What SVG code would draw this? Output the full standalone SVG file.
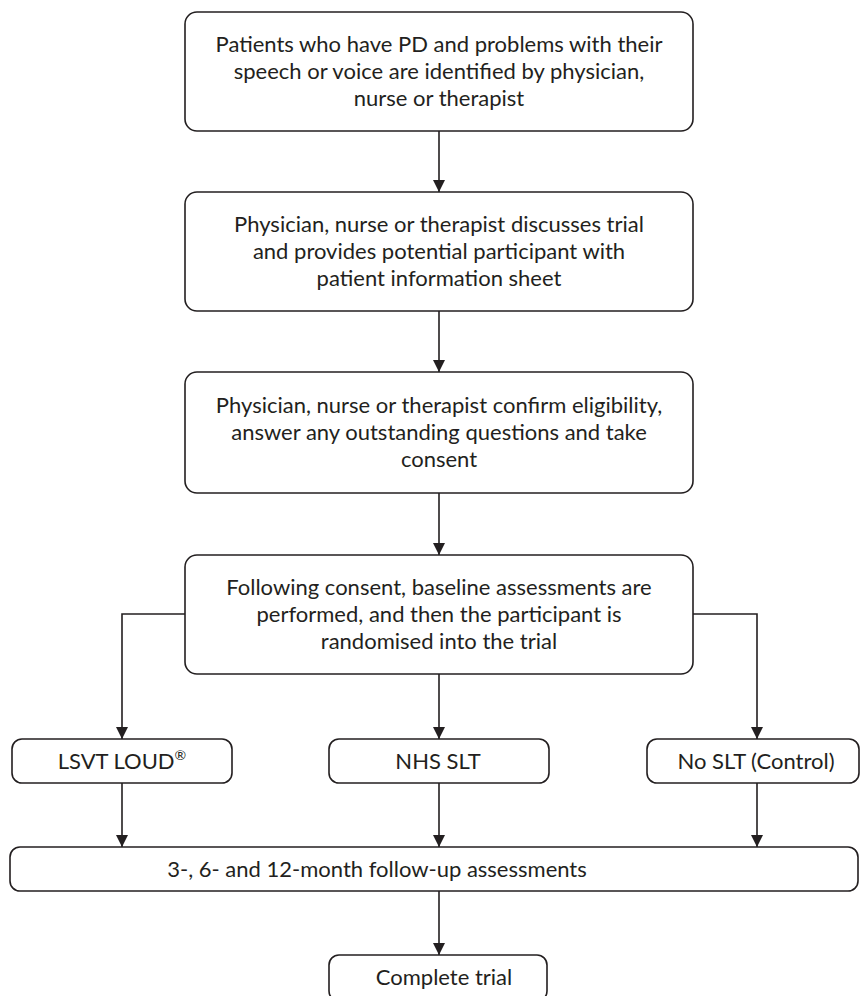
<svg xmlns="http://www.w3.org/2000/svg" width="861" height="996" viewBox="0 0 861 996">
<defs>
<marker id="ah" markerWidth="12" markerHeight="12" refX="12" refY="6" orient="auto" markerUnits="userSpaceOnUse">
<path d="M0,0 L12,6 L0,12 Z" fill="#231f20"/>
</marker>
<style>
.box{fill:#fff;stroke:#231f20;stroke-width:1.6}
.t{font-family:Lato,"Liberation Sans",sans-serif;font-size:22px;fill:#231f20;text-anchor:middle}
.c{fill:none;stroke:#231f20;stroke-width:1.6}
</style>
</defs>
<rect width="861" height="996" fill="#fff"/>
<g id="connectors">
<line class="c" x1="439" y1="131" x2="439" y2="192" marker-end="url(#ah)"/>
<line class="c" x1="439" y1="311" x2="439" y2="372" marker-end="url(#ah)"/>
<line class="c" x1="439" y1="493" x2="439" y2="555" marker-end="url(#ah)"/>
<polyline class="c" points="185,614 122,614 122,739" marker-end="url(#ah)"/>
<line class="c" x1="439" y1="674" x2="439" y2="739" marker-end="url(#ah)"/>
<polyline class="c" points="693,614 757,614 757,739" marker-end="url(#ah)"/>
<line class="c" x1="122" y1="783" x2="122" y2="847" marker-end="url(#ah)"/>
<line class="c" x1="439" y1="783" x2="439" y2="847" marker-end="url(#ah)"/>
<line class="c" x1="757" y1="783" x2="757" y2="847" marker-end="url(#ah)"/>
<line class="c" x1="439" y1="891" x2="439" y2="955" marker-end="url(#ah)"/>
</g>
<g id="n1">
<rect class="box" x="185" y="12" width="508" height="119" rx="12"/>
<text class="t" x="439" y="52">Patients who have PD and problems with their</text>
<text class="t" x="439" y="79">speech or voice are identified by physician,</text>
<text class="t" x="439" y="106">nurse or therapist</text>
</g>
<g id="n2">
<rect class="box" x="185" y="192" width="508" height="119" rx="12"/>
<text class="t" x="439" y="232">Physician, nurse or therapist discusses trial</text>
<text class="t" x="439" y="259">and provides potential participant with</text>
<text class="t" x="439" y="286">patient information sheet</text>
</g>
<g id="n3">
<rect class="box" x="185" y="372" width="508" height="121" rx="12"/>
<text class="t" x="439" y="413">Physician, nurse or therapist confirm eligibility,</text>
<text class="t" x="439" y="440">answer any outstanding questions and take</text>
<text class="t" x="439" y="467">consent</text>
</g>
<g id="n4">
<rect class="box" x="185" y="555" width="508" height="119" rx="12"/>
<text class="t" x="439" y="595">Following consent, baseline assessments are</text>
<text class="t" x="439" y="622">performed, and then the participant is</text>
<text class="t" x="439" y="649">randomised into the trial</text>
</g>
<g id="n5">
<rect class="box" x="12" y="739" width="220" height="44" rx="10"/>
<text class="t" x="122" y="769">LSVT LOUD<tspan font-size="14" dy="-9">®</tspan></text>
</g>
<g id="n6">
<rect class="box" x="329" y="739" width="220" height="44" rx="10"/>
<text class="t" x="438" y="769">NHS SLT</text>
</g>
<g id="n7">
<rect class="box" x="647" y="739" width="212" height="44" rx="10"/>
<text class="t" x="756" y="769">No SLT (Control)</text>
</g>
<g id="n8">
<rect class="box" x="10" y="847" width="848" height="44" rx="10"/>
<text class="t" x="377" y="877">3-, 6- and 12-month follow-up assessments</text>
</g>
<g id="n9">
<rect class="box" x="329" y="955" width="218" height="46" rx="10"/>
<text class="t" x="444" y="985">Complete trial</text>
</g>
</svg>
